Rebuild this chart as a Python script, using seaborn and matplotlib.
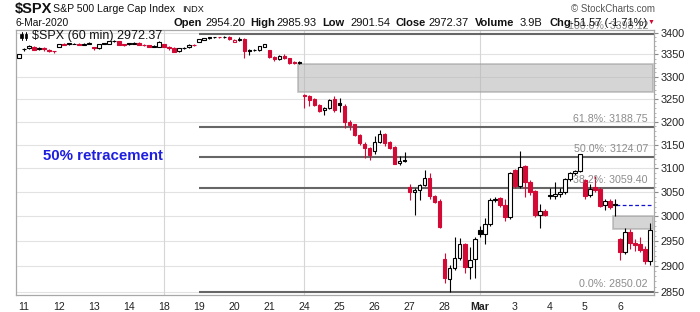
import numpy as np
import pandas as pd
import seaborn as sns
import matplotlib
matplotlib.use("Agg")
import matplotlib.pyplot as plt
from matplotlib.patches import Rectangle
from matplotlib.ticker import FixedLocator, FixedFormatter, NullFormatter

# ---------------- data (hourly SPX bars, 10-Feb last bar .. 6-Mar) ----------------
opens = [3343,
         3362, 3364, 3368, 3361.5, 3364, 3361, 3358,
         3368, 3375, 3376, 3375, 3375, 3372.5, 3374,
         3366, 3365, 3376, 3375, 3381, 3381, 3373,
         3376, 3375, 3377, 3372, 3371, 3368, 3368,
         3373, 3368, 3365, 3357, 3365, 3366, 3372,
         3379, 3384, 3389, 3390, 3390, 3391, 3391,
         3379, 3384, 3385, 3360, 3361, 3361, 3367,
         3360, 3345, 3339, 3347, 3341, 3333, 3333,
         3258, 3256, 3250, 3237, 3225, 3231, 3249,
         3240, 3235, 3200, 3194, 3171, 3152, 3143,
         3137, 3157, 3173, 3155, 3146, 3111, 3117,
         3060, 3050, 3055, 3065, 3079, 3042, 3032,
         2915, 2875, 2897, 2916, 2944, 2898, 2914,
         2972, 2964, 2984, 3034, 3037, 3023, 2998,
         3096, 3063, 3104, 3072, 3052, 3002, 3012,
         3045, 3043, 3047, 3050, 3077, 3090, 3094,
         3076, 3044, 3060, 3057, 3023, 3032, 3025,
         2954, 2928, 2968, 2946, 2945, 2935, 2910]
highs = [3352,
         3365, 3371, 3370, 3367, 3366, 3362, 3359,
         3375, 3377, 3377, 3377, 3376, 3376, 3379,
         3367, 3375, 3377, 3381, 3383, 3382, 3374,
         3377, 3378, 3379, 3374, 3372, 3371, 3381,
         3375, 3370, 3366, 3365, 3367, 3374, 3374,
         3386, 3388, 3390, 3391, 3391, 3393, 3392,
         3385, 3389, 3387, 3362, 3363, 3370, 3375,
         3361, 3347, 3348, 3350, 3343, 3335, 3335,
         3260, 3258, 3252, 3239, 3233, 3250, 3256,
         3251, 3238, 3203, 3196, 3173, 3155, 3146,
         3170, 3182, 3175, 3158, 3148, 3126, 3135,
         3067, 3058, 3066, 3096, 3091, 3045, 3036,
         2926, 2902, 2959, 2956, 2947, 2938, 2958,
         2980, 2996, 3037, 3040, 3039, 3036, 3092,
         3099, 3136.7, 3106, 3075, 3055, 3025, 3016,
         3058, 3072, 3058, 3079, 3092, 3096, 3131,
         3077, 3066, 3083, 3060, 3036, 3035, 3036,
         2957, 2976, 2975, 2955, 2958, 2940, 2985.93]
lows = [3341,
        3359, 3362, 3360, 3360, 3359, 3355, 3353,
        3366, 3371, 3371, 3373, 3371, 3371, 3373,
        3361, 3363, 3373, 3374, 3379, 3371, 3369,
        3372, 3374, 3371, 3369, 3366, 3366, 3367,
        3366, 3360, 3355, 3355, 3362, 3365, 3369,
        3378, 3383, 3386, 3387, 3387, 3388, 3383,
        3378, 3382, 3341, 3348, 3357, 3359, 3366,
        3342, 3336, 3337, 3340, 3329, 3328, 3328,
        3231, 3235, 3235, 3222, 3214, 3228, 3222,
        3222, 3186, 3183, 3168, 3150, 3121, 3118,
        3130, 3153, 3147, 3140, 3108.5, 3106, 3113,
        3034, 3003, 3034, 3062, 3035, 3027, 2977,
        2866, 2850, 2893, 2912, 2886, 2874, 2877,
        2958, 2944, 2980, 3030, 3020, 2990, 2994,
        3058, 3058, 3040, 3045, 2998, 2976.6, 3000,
        3036, 3036, 3040, 3047, 3074, 3086, 3092,
        3036, 3040, 3050, 3020, 3013, 3015, 3000,
        2912, 2924, 2935, 2930, 2928, 2904, 2901.54]
closes = [3350,
          3363, 3370, 3361, 3365, 3362, 3358, 3357,
          3374, 3372, 3374.5, 3374.8, 3372, 3374, 3377,
          3364.5, 3374, 3375, 3380, 3380.5, 3372, 3371,
          3375, 3376.5, 3372, 3371, 3368, 3369, 3378,
          3368, 3364, 3356, 3364, 3364.5, 3372, 3371,
          3385, 3387, 3388, 3389.5, 3389, 3390, 3385,
          3383, 3386, 3357, 3358.5, 3360, 3369, 3374,
          3344, 3339, 3346, 3342, 3331, 3330, 3331.5,
          3256, 3248, 3237, 3224, 3231, 3247, 3225,
          3237, 3200, 3193, 3171, 3154, 3143, 3128,
          3155, 3173, 3154, 3144, 3109, 3115, 3116,
          3050, 3055, 3064, 3079, 3041, 3030, 2979,
          2877, 2897, 2916, 2944, 2898, 2913, 2955,
          2964, 2984, 3034, 3036, 3024, 2998, 3090,
          3063, 3102, 3072, 3051, 3002, 3012, 3003,
          3042, 3047, 3051, 3077, 3090, 3094, 3130,
          3041, 3057, 3055, 3022, 3032, 3020, 3023.94,
          2928, 2968, 2946, 2943, 2932, 2910, 2972.37]

day_labels = ['11', '12', '13', '14', '18', '19', '20', '21', '24', '25',
              '26', '27', '28', 'Mar', '3', '4', '5', '6']
week_start_labels = ['18', '24', 'Mar']
fib_levels = [3398.12, 3188.75, 3124.07, 3059.40, 2850.02]
fib_texts = ['100.0%: 3398.12', '61.8%: 3188.75', '50.0%: 3124.07',
             '38.2%: 3059.40', '0.0%: 2850.02']
gap_zones = [(3266.0, 3327.6), (2974.0, 3001.0)]
prev_close = 3023.94
y_ticks = [2850, 2900, 2950, 3000, 3050, 3100, 3150, 3200, 3250, 3300, 3350, 3400]
header_values = {'Open': '2954.20', 'High': '2985.93', 'Low': '2901.54',
                 'Close': '2972.37', 'Volume': '3.9B', 'Chg': '-51.57 (-1.71%)'}

# ---------------- style ----------------
sns.set_theme(style="white")
plt.rcParams['font.family'] = ['Liberation Sans', 'DejaVu Sans']

RED = '#d20a35'
W, H = 700, 312
fig = plt.figure(figsize=(W / 100, H / 100), dpi=100)
L, R, T, B = 16, 654, 30, 295
ax = fig.add_axes([L / W, 1 - B / H, (R - L) / W, (B - T) / H])

df = pd.DataFrame({'open': opens, 'high': highs, 'low': lows, 'close': closes})
df['x'] = np.arange(len(df))
df['prev'] = df['close'].shift(1).fillna(-np.inf)
df['color'] = np.where(df['close'] < df['prev'], RED, 'black')
df['hollow'] = df['close'] >= df['open']
df['bottom'] = df[['open', 'close']].min(axis=1)
df['height'] = (df['close'] - df['open']).abs()

ax.set_yscale('log')
ax.set_xlim(-0.6, 126.8)
ax.set_ylim(2843.6, 3406.3)

# grid
for v in y_ticks:
    ax.axhline(v, color='#e2e2e2', lw=0.8, zorder=0)
day_starts = [1 + 7 * k for k in range(len(day_labels))]
for lab, xs in zip(day_labels, day_starts):
    if lab in week_start_labels:
        ax.axvline(xs, color='#d6d6d6', lw=0.8, zorder=0)

# gap zones
right_edge = 126.8
for (lo, hi), xs in zip(gap_zones, [55.65, 118.65]):
    ax.add_patch(Rectangle((xs, lo), right_edge - xs - 0.15, hi - lo,
                           facecolor='#b4b4b4', alpha=0.55, edgecolor='#9a9a9a',
                           lw=1.3, zorder=1))
ax.hlines(prev_close, 119.3, right_edge, colors='#1010d0', lw=0.9,
          linestyles=(0, (3, 2)), zorder=2)

# fib lines
fib_start = day_starts[day_labels.index('19')]
for lev, txt in zip(fib_levels, fib_texts):
    ax.hlines(lev, fib_start, right_edge, colors='#666666', lw=1.5, zorder=2)
    ax.annotate(txt, xy=(125.6, lev), xytext=(0, 5.4), textcoords='offset points',
                ha='right', va='center', fontsize=7.7, color='#8c8c8c',
                annotation_clip=False, zorder=6)

# candles
ax.vlines(df['x'], df['low'], df['high'], colors=df['color'], lw=0.8, zorder=3)
fc = [('white' if hol else col) for hol, col in zip(df['hollow'], df['color'])]
ax.bar(df['x'], df['height'], bottom=df['bottom'], width=0.72, color=fc,
       edgecolor=df['color'], linewidth=0.8, zorder=4)

# axes cosmetics
for s in ax.spines.values():
    s.set_color('#a8a8a8')
    s.set_linewidth(0.9)
ax.yaxis.tick_right()
ax.yaxis.set_major_locator(FixedLocator(y_ticks))
ax.yaxis.set_major_formatter(FixedFormatter([str(v) for v in y_ticks]))
ax.yaxis.set_minor_locator(FixedLocator(list(range(2850, 3401, 10))))
ax.yaxis.set_minor_formatter(NullFormatter())
ax.tick_params(axis='y', which='major', length=3, width=0.8, pad=2,
               labelsize=7.8, color='#888888', labelcolor='#222222',
               right=True, left=False)
ax.tick_params(axis='y', which='minor', length=1.5, width=0.6, color='#aaaaaa',
               right=True, left=False)
ax.set_xticks(day_starts)
ax.set_xticklabels(day_labels)
ax.xaxis.set_minor_locator(FixedLocator(list(df['x'])))
ax.tick_params(axis='x', which='major', length=3, width=0.8, pad=2,
               labelsize=7.6, color='#888888', labelcolor='#222222')
ax.tick_params(axis='x', which='minor', length=1.5, width=0.5, color='#aaaaaa')
for t in ax.get_xticklabels():
    if t.get_text() == 'Mar':
        t.set_fontweight('bold')
ax.set_xlabel('')
ax.set_ylabel('')

# annotation text
ax.text(43, 3124.07 + 14, '', fontsize=1)
fig.text(43 / W, 1 - 156 / H, '50% retracement', fontsize=10.8, fontweight='bold',
         color='#1e1ee0', ha='left', va='center')

# header
def ftxt(x, y, s, **kw):
    fig.text(x / W, 1 - y / H, s, va='center', **kw)

ftxt(15, 9.5, '$SPX', fontsize=10.5, fontweight='bold', color='#111111')
ftxt(53, 9.5, 'S&P 500 Large Cap Index', fontsize=7.6, color='#111111')
ftxt(182, 9.5, 'INDX', fontsize=6.6, color='#111111')
ftxt(15, 22.7, '6-Mar-2020', fontsize=7.4, color='#111111')
label_x = {'Open': 173, 'High': 250, 'Low': 322, 'Close': 395, 'Volume': 475, 'Chg': 549}
value_x = {'Open': 205, 'High': 276, 'Low': 350, 'Close': 428, 'Volume': 520, 'Chg': 570}
for k, v in header_values.items():
    ftxt(label_x[k], 22.7, k, fontsize=8, fontweight='bold', color='#111111')
    ftxt(value_x[k], 22.7, v, fontsize=8, color='#111111')
fig.text(651 / W, 1 - 22 / H, '\u25BC', fontsize=5, color=RED, ha='center', va='center')
fig.text(655 / W, 1 - 9 / H, '\u00A9 StockCharts.com', fontsize=7, color='#555555',
         ha='right', va='center')

# legend inside plot
ftxt(32, 36.5, '$SPX (60 min) 2972.37', fontsize=9, color='#111111')
fig.add_artist(plt.Line2D([21.5 / W, 21.5 / W], [1 - 31.5 / H, 1 - 39.5 / H],
                          transform=fig.transFigure, color='black', lw=0.7))
fig.add_artist(Rectangle((20.3 / W, 1 - 37.5 / H), 2.4 / W, 4 / H,
                         transform=fig.transFigure, facecolor='black', edgecolor='black', lw=0.5))
fig.add_artist(plt.Line2D([26 / W, 26 / W], [1 - 31.5 / H, 1 - 39.5 / H],
                          transform=fig.transFigure, color='black', lw=0.7))
fig.add_artist(Rectangle((24.8 / W, 1 - 38 / H), 2.4 / W, 4.5 / H,
                         transform=fig.transFigure, facecolor='white', edgecolor='black', lw=0.6))

fig.savefig('out.png', dpi=100)
